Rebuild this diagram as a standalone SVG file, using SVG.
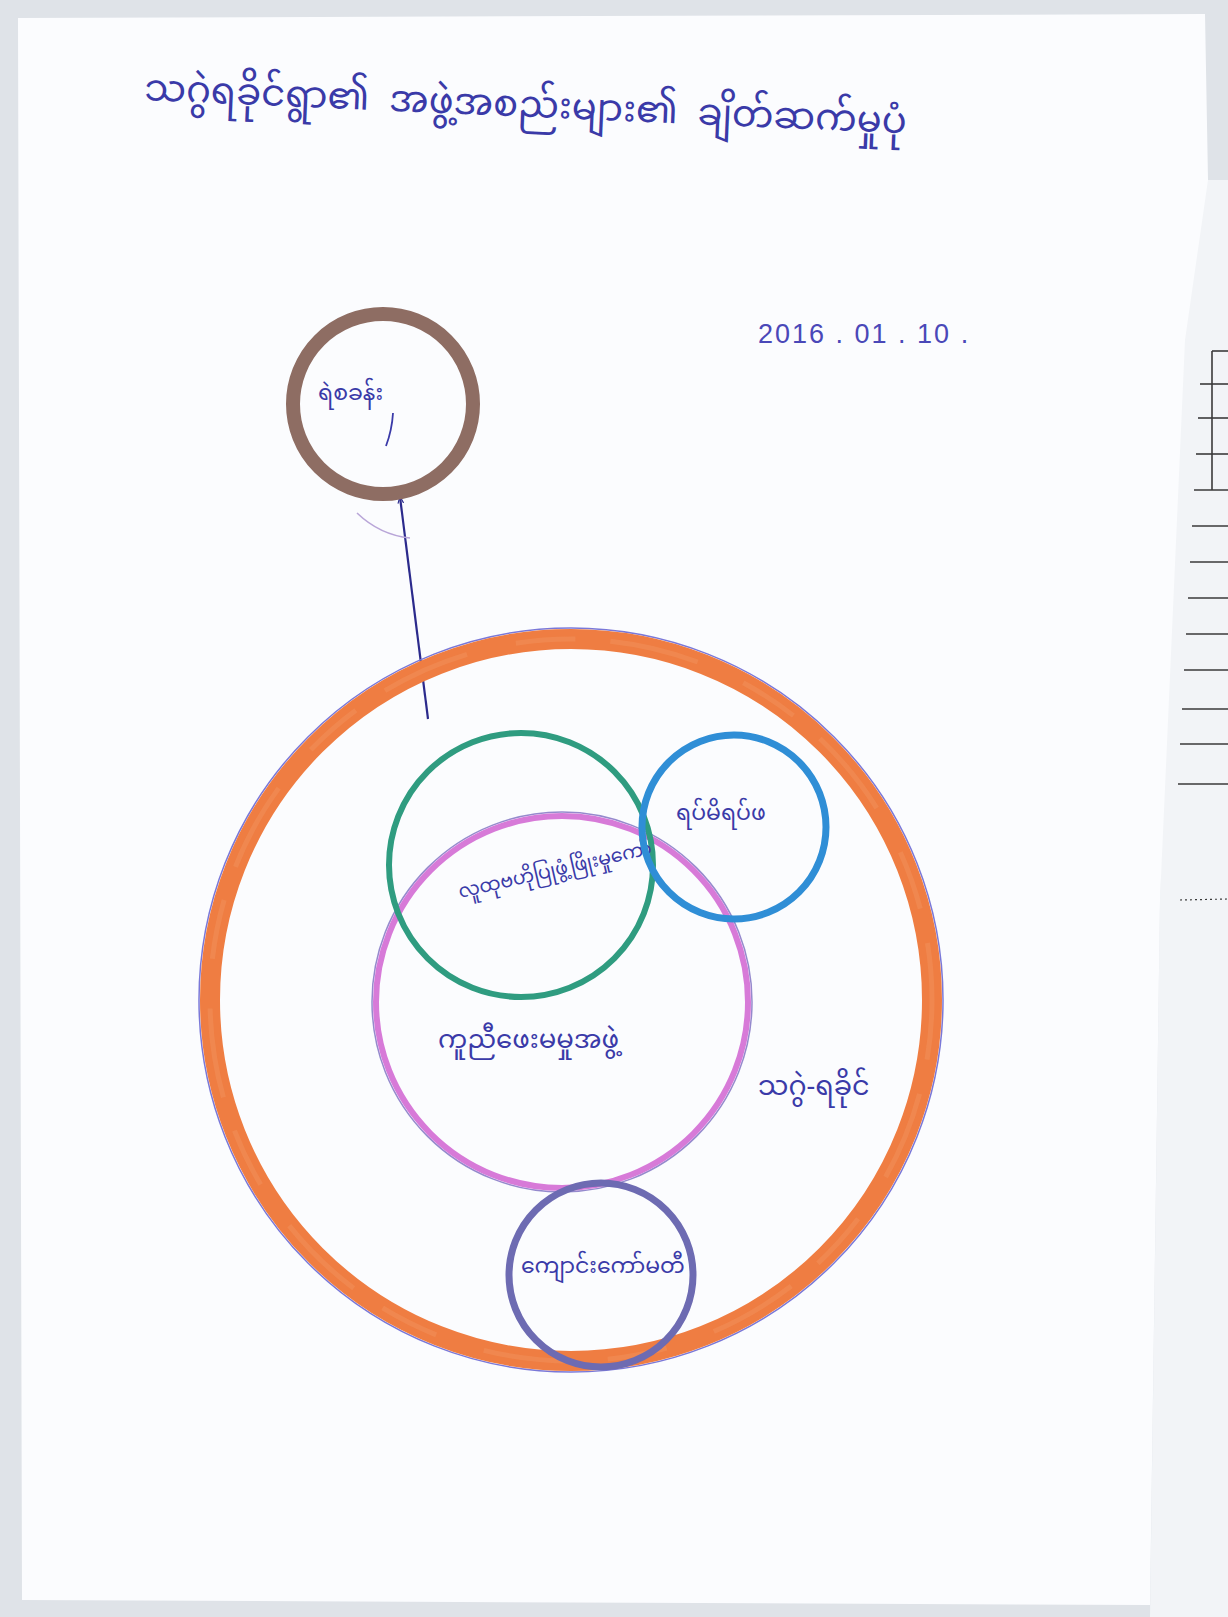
<svg xmlns="http://www.w3.org/2000/svg" width="1228" height="1617" viewBox="0 0 1228 1617">
<defs>
<style>
.hand{font-family:"Noto Sans Myanmar","Padauk","Myanmar Text","Noto Sans",sans-serif;fill:#3a3aa8}
.date{font-family:"Liberation Sans","DejaVu Sans",sans-serif;fill:#4a48b8}
.rule{stroke:#3a3a3a;stroke-width:1.6}
</style>
<marker id="ah" viewBox="0 0 10 10" refX="9" refY="5" markerWidth="7" markerHeight="7" orient="auto" markerUnits="userSpaceOnUse">
<path d="M0,1 L10,5 L0,9" fill="none" stroke="#2b2a8c" stroke-width="1.6"/>
</marker>
</defs>
<!-- background -->
<rect x="0" y="0" width="1228" height="1617" fill="#dfe3e8"/>
<!-- other page on right -->
<polygon points="1180,180 1228,180 1228,1617 1150,1617 1160,900" fill="#f2f4f7"/>
<g class="rule">
<line x1="1212" y1="351" x2="1228" y2="351"/>
<line x1="1212" y1="351" x2="1212" y2="490"/>
<line x1="1200" y1="384" x2="1228" y2="384"/>
<line x1="1198" y1="418" x2="1228" y2="418"/>
<line x1="1196" y1="454" x2="1228" y2="454"/>
<line x1="1194" y1="490" x2="1228" y2="490"/>
<line x1="1192" y1="526" x2="1228" y2="526"/>
<line x1="1190" y1="562" x2="1228" y2="562"/>
<line x1="1188" y1="598" x2="1228" y2="598"/>
<line x1="1186" y1="634" x2="1228" y2="634"/>
<line x1="1184" y1="670" x2="1228" y2="670"/>
<line x1="1182" y1="709" x2="1228" y2="709"/>
<line x1="1180" y1="744" x2="1228" y2="744"/>
<line x1="1178" y1="784" x2="1228" y2="784"/>
<line x1="1180" y1="900" x2="1228" y2="899" stroke-dasharray="2 3" stroke-width="1.2"/>
</g>
<!-- main paper -->
<polygon points="18,18 1205,14 1208,180 1185,340 1160,900 1150,1605 22,1600" fill="#fbfcfe"/>

<!-- title -->
<text class="hand" x="144" y="100" font-size="37" word-spacing="10" transform="rotate(2.5 144 100)">သဂွဲရခိုင်ရွာ၏ အဖွဲ့အစည်းများ၏ ချိတ်ဆက်မှုပုံ</text>
<text class="date" x="758" y="343" font-size="27" letter-spacing="2">2016 . 01 . 10 .</text>

<!-- connectors -->
<g id="connectors">
<line x1="428" y1="719" x2="400" y2="497" stroke="#2b2a8c" stroke-width="2.2" marker-end="url(#ah)"/>
<path d="M357,513 Q380,535 410,538" fill="none" stroke="#b9a6d8" stroke-width="1.6"/>
</g>

<!-- outer village circle -->
<g id="village">
<circle cx="571" cy="1000" r="372" fill="none" stroke="#7a78d8" stroke-width="1.5"/>
<circle cx="571" cy="1000" r="361" fill="none" stroke="#ef7d42" stroke-width="20"/>
<circle cx="571" cy="1000" r="361" fill="none" stroke="#f39a68" stroke-width="5" stroke-dasharray="60 35 90 50" opacity="0.35"/>
<text class="hand" x="758" y="1095" font-size="27">သဂွဲ-ရခိုင်</text>
</g>

<!-- police station -->
<g id="police">
<circle cx="383" cy="404" r="90" fill="none" stroke="#8e6d63" stroke-width="14"/>
<text class="hand" x="318" y="400" font-size="22">ရဲစခန်း</text>
<path d="M393,413 Q392,430 386,446" fill="none" stroke="#3a3aa8" stroke-width="1.8"/>
</g>

<!-- pink group -->
<g id="group">
<circle cx="562" cy="1002" r="190" fill="none" stroke="#6a58b8" stroke-width="1.5" opacity="0.7"/>
<circle cx="562" cy="1002" r="186" fill="none" stroke="#d77ad8" stroke-width="6"/>
<text class="hand" x="438" y="1048" font-size="26">ကူညီဖေးမမှုအဖွဲ့</text>
</g>

<!-- green committee -->
<g id="community">
<circle cx="521" cy="865" r="132" fill="none" stroke="#2f9c80" stroke-width="6"/>
<text class="hand" x="460" y="898" font-size="19" transform="rotate(-13 460 898)">လူထုဗဟိုပြုဖွံ့ဖြိုးမှုကော်</text>
</g>

<!-- elders -->
<g id="elders">
<circle cx="734" cy="827" r="92" fill="none" stroke="#2f8ed6" stroke-width="7"/>
<text class="hand" x="676" y="820" font-size="22">ရပ်မိရပ်ဖ</text>
</g>

<!-- school committee -->
<g id="school">
<circle cx="601" cy="1275" r="92" fill="none" stroke="#6d6bb2" stroke-width="7"/>
<text class="hand" x="521" y="1273" font-size="22">ကျောင်းကော်မတီ</text>
</g>
</svg>
